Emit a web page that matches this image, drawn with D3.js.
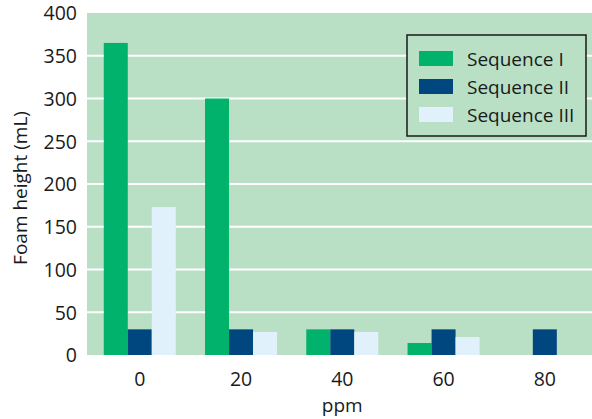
<!DOCTYPE html>
<html lang="en">
<head>
    <meta charset="UTF-8">
    <title>Foam height</title>
    <style>
        body { margin: 0; background: #fff; }
        text { font-family: "Open Sans", "Noto Sans", sans-serif; fill: #1a1a1a; }
        .grid line { stroke: #fff; stroke-width: 2px; }
    </style>
</head>
<body>
    <svg width="592" height="419"></svg>

    <script src="https://d3js.org/d3.v7.min.js"></script>
    <script>
        var categories = ["0", "20", "40", "60", "80"];
        var seriesNames = ["Sequence I", "Sequence II", "Sequence III"];
        var seq1 = [365, 300, 30, 14, 0];
        var seq2 = [30, 30, 30, 30, 30];
        var seq3 = [173, 27, 27, 21, 0];
        var yTicks = [0, 50, 100, 150, 200, 250, 300, 350, 400];
        var colors = ["#00b26b", "#00467f", "#e0f1fb"];

        var svg = d3.select("svg"),
            margin = { top: 13, right: 0, bottom: 64, left: 87 },
            width = +svg.attr("width") - margin.left - margin.right,
            height = +svg.attr("height") - margin.top - margin.bottom;

        var g = svg.append("g")
            .attr("transform", "translate(" + margin.left + "," + margin.top + ")");

        var x0 = d3.scaleBand()
            .domain(categories)
            .range([0, width])
            .paddingInner(0.289)
            .paddingOuter(0.138)
            .align(0.6);

        var x1 = d3.scaleBand()
            .domain(seriesNames)
            .range([0, x0.bandwidth()]);

        var y = d3.scaleLinear()
            .domain([0, 400])
            .range([height, 0]);

        var color = d3.scaleOrdinal().domain(seriesNames).range(colors);

        var rows = categories.map(function (c, i) {
            return { cat: c, values: [seq1[i], seq2[i], seq3[i]] };
        });

        g.append("rect")
            .attr("width", width)
            .attr("height", height)
            .attr("fill", "#b9dfc5");

        g.append("g")
            .attr("class", "grid")
            .selectAll("line")
            .data(yTicks.filter(function (d) { return d > 0 && d < 400; }))
            .enter().append("line")
            .attr("x1", 0)
            .attr("x2", width)
            .attr("y1", function (d) { return y(d); })
            .attr("y2", function (d) { return y(d); });

        g.append("g")
            .selectAll("g")
            .data(rows)
            .enter().append("g")
            .attr("transform", function (d) { return "translate(" + x0(d.cat) + ",0)"; })
            .selectAll("rect")
            .data(function (d) {
                return d.values.map(function (v, j) { return { key: seriesNames[j], value: v }; });
            })
            .enter().append("rect")
            .attr("x", function (d) { return x1(d.key); })
            .attr("width", x1.bandwidth())
            .attr("y", function (d) { return y(d.value); })
            .attr("height", function (d) { return height - y(d.value); })
            .attr("fill", function (d) { return color(d.key); });

        var yAxis = g.append("g")
            .call(d3.axisLeft(y).tickValues(yTicks).tickSize(0).tickPadding(10));
        yAxis.select(".domain").remove();
        yAxis.selectAll("text").style("font-size", "19.5px").attr("dy", "0.35em");

        var xAxis = g.append("g")
            .attr("transform", "translate(0," + height + ")")
            .call(d3.axisBottom(x0).tickSize(0).tickPadding(17));
        xAxis.select(".domain").remove();
        xAxis.selectAll("text").style("font-size", "19.5px");

        svg.append("text")
            .attr("x", margin.left + x0("40") + x0.bandwidth() / 2)
            .attr("y", 412)
            .attr("text-anchor", "middle")
            .style("font-size", "19px")
            .text("ppm");

        svg.append("text")
            .attr("transform", "translate(27," + (margin.top + height / 2 + 4) + ") rotate(-90)")
            .attr("text-anchor", "middle")
            .style("font-size", "19px")
            .text("Foam height (mL)");

        var legend = svg.append("g")
            .attr("transform", "translate(407,35)");

        legend.append("rect")
            .attr("width", 179)
            .attr("height", 101)
            .attr("fill", "#b9dfc5")
            .attr("stroke", "#1a1a1a")
            .attr("stroke-width", 1.5);

        var item = legend.selectAll(".item")
            .data(seriesNames)
            .enter().append("g")
            .attr("class", "item")
            .attr("transform", function (d, i) { return "translate(12," + (16 + i * 28) + ")"; });

        item.append("rect")
            .attr("width", 34)
            .attr("height", 15)
            .attr("fill", function (d) { return color(d); });

        item.append("text")
            .attr("x", 48)
            .attr("y", 8)
            .attr("dy", "0.35em")
            .style("font-size", "19px")
            .text(function (d) { return d; });
    </script>
</body>
</html>
